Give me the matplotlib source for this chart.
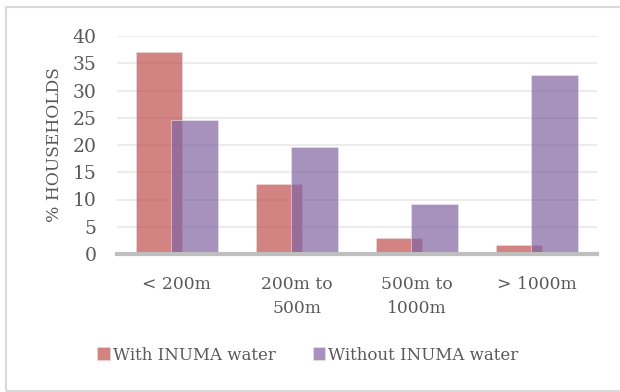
import matplotlib.pyplot as plt
import numpy as np
from matplotlib.patches import Rectangle

categories = ["< 200m", "200m to\n500m", "500m to\n1000m", "> 1000m"]
with_inuma = [37.1, 12.8, 3.0, 1.7]
without_inuma = [24.5, 19.6, 9.2, 32.8]
yticks = [0, 5, 10, 15, 20, 25, 30, 35, 40]

plt.rcParams['font.family'] = ['DejaVu Serif']
text_col = '#595959'

fig = plt.figure(figsize=(6.2, 3.92), dpi=100)
# chart frame
fig.patches.append(Rectangle((6 / 620, 1 - 391 / 392), 1.0, (391 - 7) / 392,
                             transform=fig.transFigure, fill=False,
                             edgecolor='#d9d9d9', linewidth=1.5))

ax = fig.add_axes([116.7 / 620, 1 - 254 / 392, 480 / 620, 218 / 392])
x = np.arange(len(categories))
w = 0.39
off = 0.148
ax.bar(x - off, with_inuma, w, color='#c0504d', alpha=0.7,
       edgecolor='#f2d8d8', linewidth=0.6, label='With INUMA water', zorder=2)
ax.bar(x + off, without_inuma, w, color='#8064a2', alpha=0.7,
       edgecolor='#eae3f2', linewidth=0.6, label='Without INUMA water', zorder=3)

ax.set_xlim(-0.5, 3.5)
ax.set_ylim(0, 40)
ax.set_yticks(yticks)
ax.set_yticklabels([str(t) for t in yticks], fontsize=13.5, color=text_col)
ax.set_xticks(x)
ax.set_xticklabels(categories, fontsize=12.3, color=text_col, linespacing=1.5)
ax.tick_params(axis='both', length=0)
ax.tick_params(axis='y', pad=14.5)
ax.tick_params(axis='x', pad=16)
ax.grid(axis='y', color='#ececec', linewidth=1.5, zorder=0)
ax.set_axisbelow(True)
for s in ['top', 'right', 'left']:
    ax.spines[s].set_visible(False)
ax.spines['bottom'].set_color('#bfbfbf')
ax.spines['bottom'].set_linewidth(3)
ax.spines['bottom'].set_zorder(4)

ax.set_ylabel('% HOUSEHOLDS', fontsize=12.3, color=text_col)
ax.yaxis.set_label_coords(-(116.7 - 63) / 480, 0.5)

fig.legend(loc='center', bbox_to_anchor=(308 / 620, 1 - 355 / 392), ncol=2,
           frameon=False, fontsize=12, handlelength=0.75, handleheight=0.8,
           handletextpad=0.2, columnspacing=2.2, labelcolor=text_col)

fig.savefig('out.png', dpi=100)
